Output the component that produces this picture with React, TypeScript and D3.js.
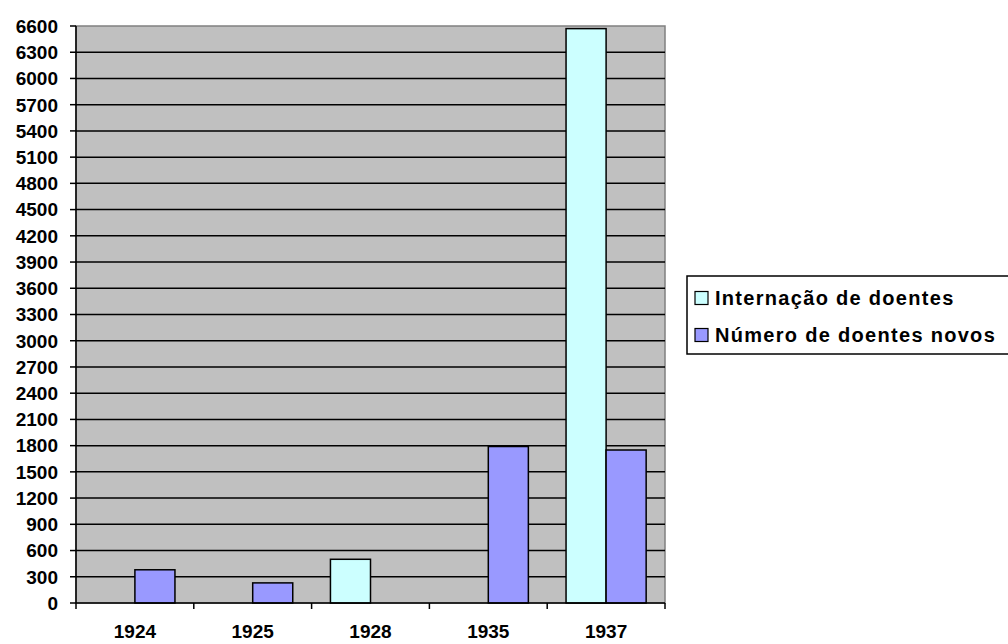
import React from 'react';
import * as d3 from 'd3';

const years = ['1924', '1925', '1928', '1935', '1937'];
const internacao = [0, 0, 500, 0, 6570];
const novos = [380, 230, 0, 1790, 1750];
const seriesNames = ['Internação de doentes', 'Número de doentes novos'];
const seriesColors = ['#ccffff', '#9999ff'];
const yTicks = d3.range(0, 6601, 300);

export default function App() {
  const width = 1008;
  const height = 644;
  const margin = { top: 26, right: 343, bottom: 41, left: 76 };
  const font = '"Liberation Sans", Arial, sans-serif';

  const x = d3
    .scaleBand<string>()
    .domain(years)
    .range([margin.left, width - margin.right])
    .paddingInner(0)
    .paddingOuter(0);

  const y = d3
    .scaleLinear()
    .domain([0, 6600])
    .range([height - margin.bottom, margin.top]);

  const bw = x.bandwidth();
  const barW = bw * 0.34;
  const series = [internacao, novos];

  return (
    <svg
      width={width}
      height={height}
      style={{ position: 'absolute', left: 0, top: 0, background: '#fff' }}
      fontFamily={font}
    >
      {/* plot background */}
      <rect
        x={margin.left}
        y={margin.top}
        width={width - margin.left - margin.right}
        height={height - margin.top - margin.bottom}
        fill="#c0c0c0"
        stroke="#808080"
        strokeWidth={1.5}
      />

      {/* gridlines + y ticks */}
      {yTicks.map((t) => (
        <g key={t}>
          {t > 0 && t < 6600 && (
            <line
              x1={margin.left}
              x2={width - margin.right}
              y1={y(t)}
              y2={y(t)}
              stroke="#000"
              strokeWidth={1.5}
            />
          )}
          <line x1={margin.left - 6} x2={margin.left} y1={y(t)} y2={y(t)} stroke="#000" strokeWidth={1.5} />
          <text
            x={margin.left - 18}
            y={y(t)}
            dy="0.36em"
            textAnchor="end"
            fontSize={19}
            fontWeight="bold"
          >
            {t}
          </text>
        </g>
      ))}

      {/* bars */}
      {years.map((yr, i) =>
        series.map((s, k) =>
          s[i] > 0 ? (
            <rect
              key={yr + k}
              x={x(yr)! + bw / 2 + (k === 0 ? -barW : 0)}
              y={y(s[i])}
              width={barW}
              height={y(0) - y(s[i])}
              fill={seriesColors[k]}
              stroke="#000"
              strokeWidth={1.5}
            />
          ) : null
        )
      )}

      {/* axes */}
      <line x1={margin.left} x2={margin.left} y1={margin.top} y2={y(0)} stroke="#000" strokeWidth={1.5} />
      <line
        x1={margin.left}
        x2={width - margin.right}
        y1={y(0)}
        y2={y(0)}
        stroke="#000"
        strokeWidth={1.5}
      />
      {[...years.map((yr) => x(yr)!), width - margin.right].map((px, i) => (
        <line key={i} x1={px} x2={px} y1={y(0)} y2={y(0) + 6} stroke="#000" strokeWidth={1.5} />
      ))}
      {years.map((yr) => (
        <text
          key={yr}
          x={x(yr)! + bw / 2}
          y={y(0) + 35}
          textAnchor="middle"
          fontSize={19}
          fontWeight="bold"
        >
          {yr}
        </text>
      ))}

      {/* legend */}
      <g transform="translate(687,276)">
        <rect x={0} y={0} width={340} height={78} fill="#fff" stroke="#000" strokeWidth={1.5} />
        {seriesNames.map((n, k) => (
          <g key={n} transform={`translate(0,${22 + k * 37})`}>
            <rect x={8} y={-6.5} width={13} height={13} fill={seriesColors[k]} stroke="#000" strokeWidth={1.2} />
            <text x={28} y={0} dy="0.36em" fontSize={20} fontWeight="bold" letterSpacing={1.3}>
              {n}
            </text>
          </g>
        ))}
      </g>
    </svg>
  );
}
